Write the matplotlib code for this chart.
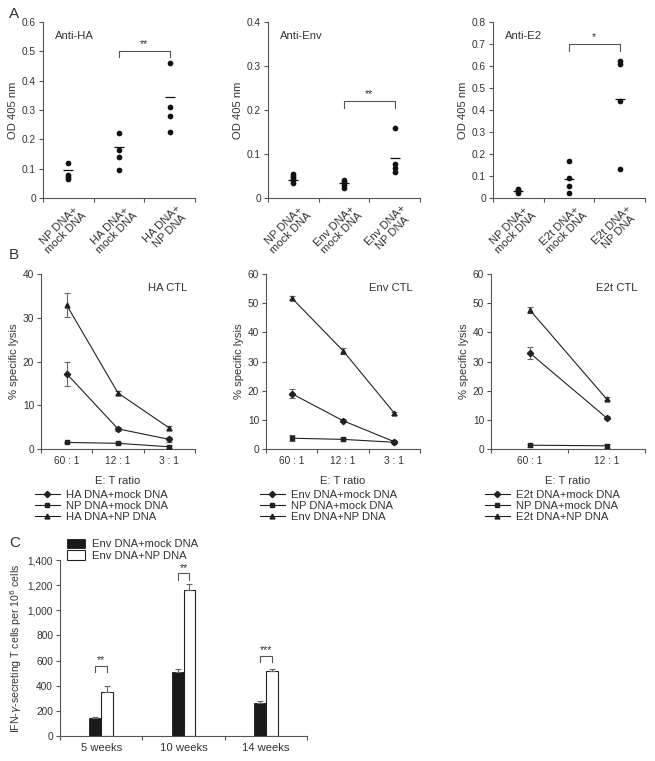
import matplotlib
matplotlib.use("Agg")
import matplotlib.pyplot as plt
import numpy as np

plt.rcParams['font.family'] = ['Liberation Sans', 'DejaVu Sans']
plt.rcParams['font.size'] = 7.3
TXT = '#333333'
AX = '#555555'
plt.rcParams['text.color'] = TXT
plt.rcParams['axes.labelcolor'] = TXT
plt.rcParams['xtick.color'] = AX
plt.rcParams['ytick.color'] = AX
plt.rcParams['xtick.labelcolor'] = TXT
plt.rcParams['ytick.labelcolor'] = TXT
plt.rcParams['xtick.labelsize'] = 7.3
plt.rcParams['ytick.labelsize'] = 7.3

FS_LAB = 8.1

# ---------------- Panel A data ----------------
a_titles = ['Anti-HA', 'Anti-Env', 'Anti-E2']
a_cats = [['NP DNA+\nmock DNA', 'HA DNA+\nmock DNA', 'HA DNA+\nNP DNA'],
          ['NP DNA+\nmock DNA', 'Env DNA+\nmock DNA', 'Env DNA+\nNP DNA'],
          ['NP DNA+\nmock DNA', 'E2t DNA+\nmock DNA', 'E2t DNA+\nNP DNA']]
ha_points = [[0.12, 0.08, 0.072, 0.065], [0.22, 0.162, 0.14, 0.095], [0.46, 0.31, 0.28, 0.225]]
ha_means = [0.095, 0.175, 0.345]
env_points = [[0.055, 0.05, 0.045, 0.04, 0.035], [0.042, 0.036, 0.03, 0.022], [0.16, 0.078, 0.068, 0.06]]
env_means = [0.042, 0.034, 0.092]
e2_points = [[0.042, 0.036, 0.03, 0.025], [0.168, 0.093, 0.055, 0.025], [0.625, 0.607, 0.44, 0.13]]
e2_means = [0.033, 0.088, 0.45]
a_points = [ha_points, env_points, e2_points]
a_means = [ha_means, env_means, e2_means]
a_ymax = [0.6, 0.4, 0.8]
a_yticks = [[0, 0.1, 0.2, 0.3, 0.4, 0.5, 0.6],
            [0, 0.1, 0.2, 0.3, 0.4],
            [0, 0.1, 0.2, 0.3, 0.4, 0.5, 0.6, 0.7, 0.8]]
a_ticklabels = [['0', '0.1', '0.2', '0.3', '0.4', '0.5', '0.6'],
                ['0', '0.1', '0.2', '0.3', '0.4'],
                ['0', '0.1', '0.2', '0.3', '0.4', '0.5', '0.6', '0.7', '0.8']]
a_sig = ['**', '**', '*']
a_brk_top = [0.50, 0.22, 0.70]
a_brk_drop = [0.02, 0.015, 0.03]

# ---------------- Panel B data ----------------
b_titles = ['HA CTL', 'Env CTL', 'E2t CTL']
b_ratios = [['60 : 1', '12 : 1', '3 : 1'], ['60 : 1', '12 : 1', '3 : 1'], ['60 : 1', '12 : 1']]
b_labels = [['HA DNA+mock DNA', 'NP DNA+mock DNA', 'HA DNA+NP DNA'],
            ['Env DNA+mock DNA', 'NP DNA+mock DNA', 'Env DNA+NP DNA'],
            ['E2t DNA+mock DNA', 'NP DNA+mock DNA', 'E2t DNA+NP DNA']]
b_vals = [
    [[17.2, 4.6, 2.2], [1.5, 1.3, 0.5], [32.9, 12.8, 4.8]],
    [[19.0, 9.7, 2.5], [3.7, 3.3, 2.3], [51.8, 33.7, 12.3]],
    [[33.0, 10.7], [1.3, 1.1], [47.8, 17.2]],
]
b_errs = [
    [[2.7, 0.5, 0.6], [0.2, 0.2, 0.2], [2.7, 0.5, 0.5]],
    [[1.5, 0.5, 0.4], [1.0, 0.5, 0.3], [0.8, 1.0, 0.5]],
    [[2.0, 0.5], [0.5, 0.6], [1.0, 0.5]],
]
b_ymax = [40, 60, 60]
b_yticks = [[0, 10, 20, 30, 40], [0, 10, 20, 30, 40, 50, 60], [0, 10, 20, 30, 40, 50, 60]]
b_markers = ['D', 's', '^']

# ---------------- Panel C data ----------------
c_weeks = ['5 weeks', '10 weeks', '14 weeks']
c_mock = [140, 510, 265]
c_mock_err = [10, 25, 10]
c_np = [350, 1160, 515]
c_np_err = [50, 50, 15]
c_sig = ['**', '**', '***']
c_brk_top = [559, 1294, 639]
c_brk_drop = [47, 53, 48]
c_labels = ['Env DNA+mock DNA', 'Env DNA+NP DNA']
c_yticks = [0, 200, 400, 600, 800, 1000, 1200, 1400]
c_yticklabels = ['0', '200', '400', '600', '800', '1,000', '1,200', '1,400']

W, H = 655, 761
fig = plt.figure(figsize=(W / 100, H / 100), dpi=100)


def px_axes(left, top, right, bottom):
    return fig.add_axes([left / W, 1 - bottom / H, (right - left) / W, (bottom - top) / H])


def style(ax):
    for s in ['top', 'right']:
        ax.spines[s].set_visible(False)
    for s in ['left', 'bottom']:
        ax.spines[s].set_color(AX)
        ax.spines[s].set_linewidth(0.8)
    ax.tick_params(axis='both', which='major', length=3, width=0.8, pad=2)


# ---------------- Panel A ----------------
a_lefts = [43, 268, 493]
for i in range(3):
    ax = px_axes(a_lefts[i], 22, a_lefts[i] + 152, 198)
    style(ax)
    for j in range(3):
        xs = np.full(len(a_points[i][j]), j + 0.5)
        ax.scatter(xs, a_points[i][j], s=17, color='#111111', zorder=3, linewidths=0)
        ax.hlines(a_means[i][j], j + 0.5 - 0.1, j + 0.5 + 0.1, color='#111111', lw=0.9, zorder=4)
    ax.set_xlim(0, 3)
    ax.set_ylim(0, a_ymax[i])
    ax.set_yticks(a_yticks[i])
    ax.set_yticklabels(a_ticklabels[i])
    ax.set_xticks([0, 1, 2, 3])
    ax.set_xticklabels([])
    ax.set_xticks([0.62, 1.62, 2.62], minor=True)
    ax.set_xticklabels(a_cats[i], minor=True, rotation=45, ha='right', rotation_mode='anchor',
                       multialignment='center', linespacing=1.0, fontsize=FS_LAB)
    ax.tick_params(axis='x', which='minor', length=0, pad=4)
    ax.set_ylabel('OD 405 nm', labelpad=3, fontsize=FS_LAB)
    ax.text(0.08, 0.95, a_titles[i], transform=ax.transAxes, ha='left', va='top', fontsize=FS_LAB)
    top = a_brk_top[i]
    d = a_brk_drop[i]
    ax.plot([1.5, 1.5, 2.5, 2.5], [top - d, top, top, top - d], color=AX, lw=0.8)
    ax.text(2.0, top + d * 0.3, a_sig[i], ha='center', va='bottom', fontsize=7.5)

fig.text(9 / W, 1 - 14 / H, 'A', fontsize=11, ha='left', va='center')

# ---------------- Panel B ----------------
b_lefts = [41, 266, 491]
for i in range(3):
    n = len(b_ratios[i])
    ax = px_axes(b_lefts[i], 274, b_lefts[i] + 154, 449)
    style(ax)
    x = np.arange(n) + 0.5
    handles = []
    for k in range(3):
        ax.errorbar(x, b_vals[i][k], yerr=b_errs[i][k], fmt='none', ecolor='#666666',
                    elinewidth=0.8, capsize=2, capthick=0.8, zorder=2)
        ms = 3.2 if b_markers[k] == 'D' else 3.5
        h, = ax.plot(x, b_vals[i][k], color='#222222', lw=0.8, marker=b_markers[k], ms=ms,
                     zorder=3, label=b_labels[i][k])
        handles.append(h)
    ax.set_xlim(0, n)
    ax.set_ylim(0, b_ymax[i])
    ax.set_yticks(b_yticks[i])
    ax.set_xticks(np.arange(n + 1))
    ax.set_xticklabels([])
    ax.set_xticks(x, minor=True)
    ax.set_xticklabels(b_ratios[i], minor=True)
    ax.tick_params(axis='x', which='minor', length=0, pad=5)
    ax.set_xlabel('E: T ratio', fontsize=FS_LAB, labelpad=7)
    ax.set_ylabel('% specific lysis', labelpad=3, fontsize=FS_LAB)
    ax.text(0.95, 0.95, b_titles[i], transform=ax.transAxes, ha='right', va='top', fontsize=FS_LAB)
    ax.legend(handles=handles, loc='upper left', bbox_to_anchor=(-0.04, -0.235), frameon=False,
              fontsize=FS_LAB, handlelength=2.2, handletextpad=0.6, labelspacing=0.1,
              borderaxespad=0, borderpad=0)

fig.text(9 / W, 1 - 255 / H, 'B', fontsize=11, ha='left', va='center')

# ---------------- Panel C ----------------
ax = px_axes(60, 560, 307, 736)
style(ax)
xc = np.arange(3) + 0.5
bw = 0.145
ax.bar(xc - bw / 2, c_mock, width=bw, color='#1a1a1a', edgecolor='#1a1a1a', lw=0.6,
       label=c_labels[0], zorder=2)
ax.bar(xc + bw / 2, c_np, width=bw, color='white', edgecolor='#222222', lw=0.8,
       label=c_labels[1], zorder=2)
ax.errorbar(xc - bw / 2, c_mock, yerr=[np.zeros(3), c_mock_err], fmt='none', ecolor='#666666',
            elinewidth=0.8, capsize=2.5, capthick=0.8, zorder=3)
ax.errorbar(xc + bw / 2, c_np, yerr=[np.zeros(3), c_np_err], fmt='none', ecolor='#666666',
            elinewidth=0.8, capsize=2.5, capthick=0.8, zorder=3)
for j in range(3):
    t = c_brk_top[j]
    d = c_brk_drop[j]
    ax.plot([xc[j] - bw / 2, xc[j] - bw / 2, xc[j] + bw / 2, xc[j] + bw / 2],
            [t - d, t, t, t - d], color=AX, lw=0.8)
    ax.text(xc[j], t + 5, c_sig[j], ha='center', va='bottom', fontsize=7.5)
ax.set_xlim(0, 3)
ax.set_ylim(0, 1400)
ax.set_yticks(c_yticks)
ax.set_yticklabels(c_yticklabels)
ax.set_xticks([0, 1, 2, 3])
ax.set_xticklabels([])
ax.set_xticks(xc, minor=True)
ax.set_xticklabels(c_weeks, minor=True, fontsize=FS_LAB)
ax.tick_params(axis='x', which='minor', length=0, pad=5)
ax.set_ylabel('IFN-$\\gamma$-secreting T cells per 10$^6$ cells', labelpad=3, fontsize=7.6)
ax.legend(loc='lower left', bbox_to_anchor=(0.03, 0.995), frameon=False, fontsize=FS_LAB,
          handlelength=1.6, handleheight=0.9, handletextpad=0.6, labelspacing=0.1,
          borderaxespad=0, borderpad=0)
fig.text(9 / W, 1 - 543 / H, 'C', fontsize=11, ha='left', va='center')

fig.savefig('out.png', dpi=100)
